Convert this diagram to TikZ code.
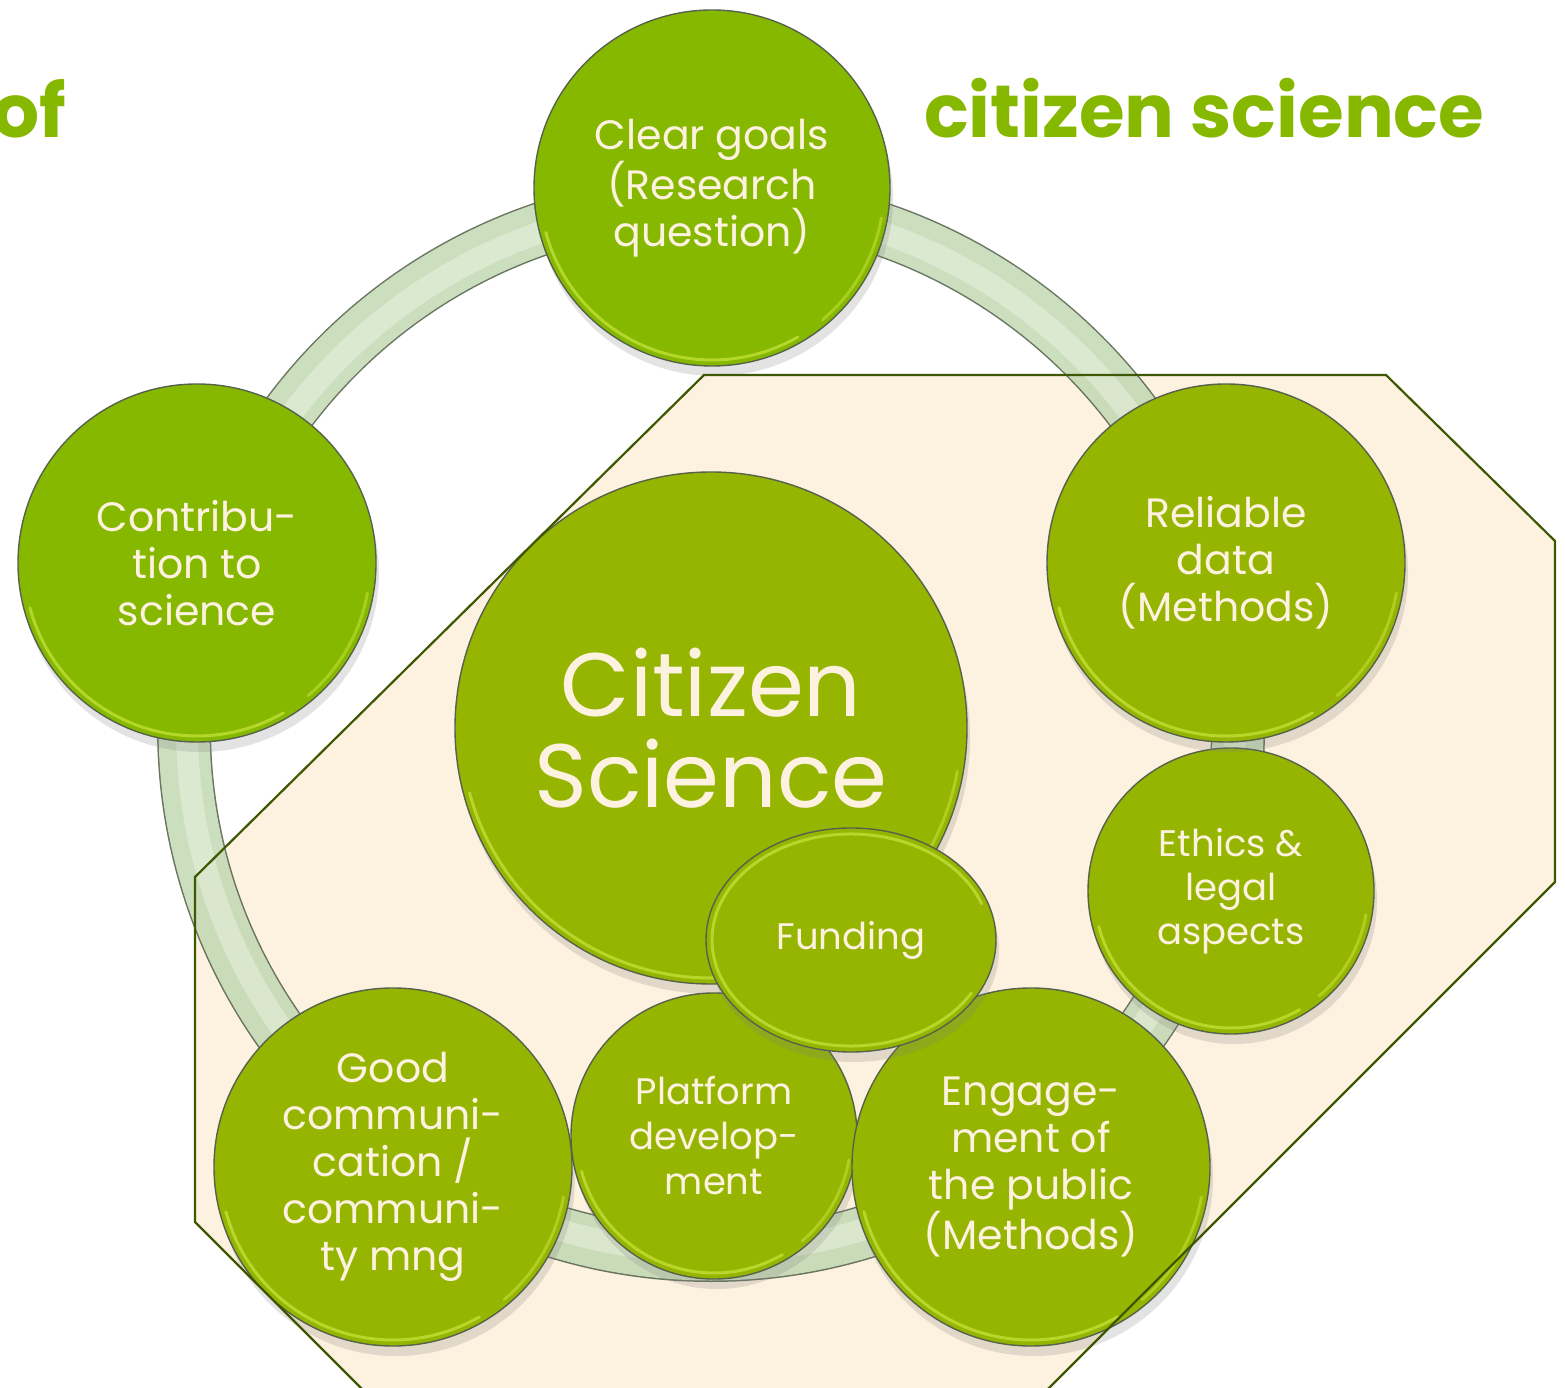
\documentclass[tikz,border=0pt]{standalone}
\usepackage{fontspec}
\setmainfont{Poppins}
\usetikzlibrary{shadows,shapes.geometric}
\definecolor{ballout}{HTML}{86B800}
\definecolor{ballin}{HTML}{95B500}
\definecolor{cream}{HTML}{FDF1E0}
\definecolor{octline}{HTML}{3D5800}
\definecolor{ringmid}{HTML}{C4D9B4}
\definecolor{ringhi}{HTML}{D6E6CA}
\definecolor{ringedge}{HTML}{56624C}
\definecolor{rimcol}{HTML}{D2EC48}
\definecolor{titlegreen}{HTML}{86B800}
\newcommand{\rimhl}[2]{%
  \draw[rimstyle] (#1.center) ++(195:{#2-6}) arc[start angle=195,end angle=300,radius={#2-6}];
  \draw[rimstyle, opacity=0.45] (#1.center) ++(310:{#2-6}) arc[start angle=310,end angle=350,radius={#2-6}];
}
\begin{document}
\begin{tikzpicture}[x=1pt,y=1pt,
  ball/.style={circle, draw=ringedge, line width=1.4pt, inner sep=0pt, align=center,
    text=cream, font=\fontsize{41}{47}\selectfont,
    drop shadow={opacity=0.22, shadow xshift=3pt, shadow yshift=-10pt}},
  rimstyle/.style={rimcol, line width=3pt, opacity=0.6, line cap=round},
  title/.style={text=titlegreen, font=\fontsize{74}{80}\selectfont\bfseries, inner sep=0pt},
  octo/.style={draw=octline, line width=2.2pt, line join=miter}]
\useasboundingbox (0,0) rectangle (1565,1387);
\begin{scope}
\clip (0,0) rectangle (1565,1387);
% background octagon fill
\fill[cream] (704,1012) -- (1386,1012) -- (1555,846) -- (1555,505) -- (1000,-50) -- (410,-50) -- (195,165) -- (195,510) -- cycle;
% ring
\coordinate (rc) at (711,659);
\begin{scope}[opacity=0.88, transparency group]
\draw[ringedge, line width=54pt] (rc) circle[radius=527];
\draw[ringmid, line width=51pt] (rc) circle[radius=527];
\draw[ringhi, line width=22pt] (rc) circle[radius=524];
\end{scope}
\end{scope}
% circles
\node[ball, fill=ballin, minimum size=512, font=\fontsize{90}{91}\selectfont] (cs) at (711,659) {Citizen\\Science};
\rimhl{cs}{256}
\node[ball, fill=ballin, minimum size=358] (comm) at (393,220) {Good\\communi-\\cation /\\communi-\\ty mng};
\rimhl{comm}{179}
\node[ball, fill=ballin, minimum size=286, font=\fontsize{37}{45}\selectfont] (plat) at (714,251) {Platform\\develop-\\ment};
\rimhl{plat}{143}
\node[ball, fill=ballin, minimum size=358] (eng) at (1031,220) {Engage-\\ment of\\the public\\(Methods)};
\rimhl{eng}{179}
\node[ball, ellipse, fill=ballin, minimum width=290, minimum height=224, font=\fontsize{37}{45}\selectfont] (fund) at (851,447) {Funding};
\draw[rimstyle] (fund.center) ++(330:{139} and {106}) arc[start angle=330,end angle=20,x radius=139,y radius=106];
\node[ball, fill=ballin, minimum size=286, font=\fontsize{37}{44}\selectfont] (eth) at (1231,496) {Ethics \&\\legal\\aspects};
\rimhl{eth}{143}
\node[ball, fill=ballin, minimum size=358] (rel) at (1226,824) {Reliable\\data\\(Methods)};
\rimhl{rel}{179}
\node[ball, fill=ballout, minimum size=356] (goal) at (712,1199) {Clear goals\\(Research\\question)};
\rimhl{goal}{178}
\node[ball, fill=ballout, minimum size=358] (contr) at (197,824) {Contribu-\\tion to\\science};
\rimhl{contr}{179}
% octagon outline on top
\begin{scope}
\clip (0,0) rectangle (1565,1387);
\draw[octo] (704,1012) -- (1386,1012) -- (1555,846) -- (1555,505) -- (1000,-50) -- (410,-50) -- (195,165) -- (195,510) -- cycle;
\end{scope}
% titles
\begin{scope}
\clip (0,0) rectangle (1565,1387);
\node[title, anchor=base west] (t1) at (924,1249) {citizen science};
\node[title, anchor=base east] (t0) at (66,1249) {of};
\end{scope}
\end{tikzpicture}
\end{document}
